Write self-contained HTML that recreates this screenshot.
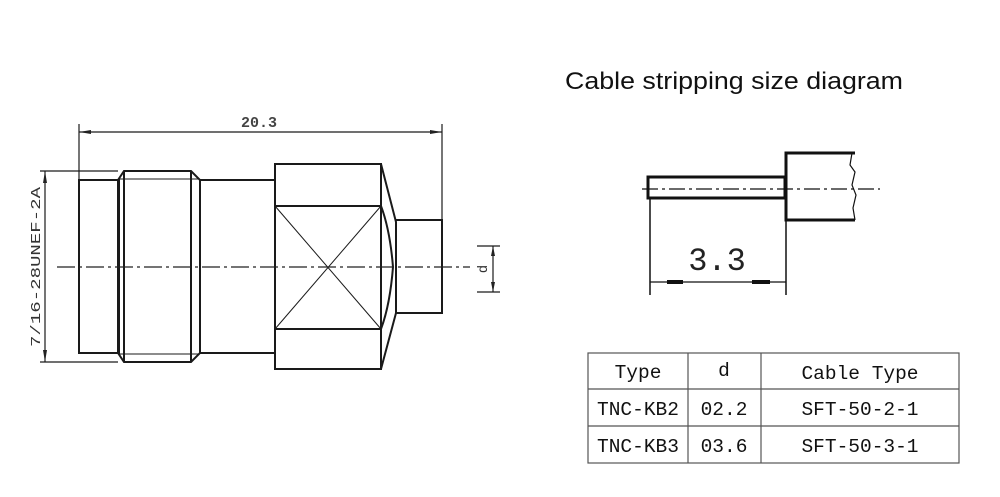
<!DOCTYPE html>
<html><head><style>
html,body{margin:0;padding:0;background:#fff;}
svg{display:block;}
</style></head><body>
<svg width="1000" height="497" viewBox="0 0 1000 497" xmlns="http://www.w3.org/2000/svg">
<rect width="1000" height="497" fill="#fff"/>
<text x="565" y="89" font-family="Liberation Sans, sans-serif" font-size="24" fill="#111" textLength="338" lengthAdjust="spacingAndGlyphs">Cable stripping size diagram</text>

<g stroke="#1a1a1a" fill="none" stroke-width="2">
  <line x1="79" y1="124" x2="79" y2="180" stroke-width="1.2"/>
  <line x1="442" y1="124" x2="442" y2="220" stroke-width="1.2"/>
  <line x1="79" y1="132" x2="442" y2="132" stroke-width="1.2"/>
  <line x1="40" y1="171" x2="118" y2="171" stroke-width="1.2"/>
  <line x1="40" y1="362" x2="118" y2="362" stroke-width="1.2"/>
  <line x1="45" y1="171" x2="45" y2="362" stroke-width="1.2"/>
  <rect x="79" y="180" width="40" height="173"/>
  <path d="M118,180 L124,171 L191,171 L200,180 L200,353 L191,362 L124,362 L118,353 Z"/>
  <line x1="124" y1="171" x2="124" y2="362"/>
  <line x1="191" y1="171" x2="191" y2="362"/>
  <line x1="118" y1="179" x2="200" y2="179" stroke-width="1"/>
  <line x1="118" y1="354" x2="200" y2="354" stroke-width="1"/>
  <line x1="200" y1="180" x2="275" y2="180"/>
  <line x1="200" y1="353" x2="275" y2="353"/>
  <rect x="275" y="164" width="106" height="205"/>
  <line x1="275" y1="206" x2="381" y2="206"/>
  <line x1="275" y1="329" x2="381" y2="329"/>
  <line x1="275" y1="206" x2="381" y2="329" stroke-width="1"/>
  <line x1="381" y1="206" x2="275" y2="329" stroke-width="1"/>
  <path d="M381,164 L396,222 L396,313 L381,369"/>
  <path d="M381,206 Q390,230 393,267 Q390,305 381,329"/>
  <path d="M396,220 L442,220 L442,313 L396,313"/>
  <line x1="477" y1="246" x2="500" y2="246" stroke-width="1.2"/>
  <line x1="477" y1="292" x2="500" y2="292" stroke-width="1.2"/>
  <line x1="493" y1="246" x2="493" y2="292" stroke-width="1.2"/>
</g>
<g fill="#222">
  <path d="M79,132 l12,-2 v4 z"/>
  <path d="M442,132 l-12,-2 v4 z"/>
  <path d="M45,171 l-2,12 h4 z"/>
  <path d="M45,362 l-2,-12 h4 z"/>
  <path d="M493,246 l-2,10 h4 z"/>
  <path d="M493,292 l-2,-10 h4 z"/>
</g>
<line x1="57" y1="267" x2="470" y2="267" stroke="#222" stroke-width="1.2" stroke-dasharray="18,4,3,4"/>
<text x="259" y="127" font-family="Liberation Mono, monospace" font-size="15" font-weight="bold" fill="#444" text-anchor="middle">20.3</text>
<text transform="translate(40,267) rotate(-90)" font-family="Liberation Mono, monospace" font-size="14" fill="#333" text-anchor="middle" textLength="160" lengthAdjust="spacingAndGlyphs">7/16-28UNEF-2A</text>
<text transform="translate(487,269) rotate(-90)" font-family="Liberation Mono, monospace" font-size="14" fill="#333" text-anchor="middle">d</text>

<g stroke="#111" fill="none">
  <rect x="648" y="177" width="137" height="21" stroke-width="3"/>
  <path d="M855,153 L786,153 L786,220 L855,220" stroke-width="3"/>
  <path d="M852,153 L850,165 L855,172 L852,185 L856,195 L853,208 L855,220" stroke-width="1.2"/>
  <line x1="650" y1="198" x2="650" y2="295" stroke-width="1.5"/>
  <line x1="786" y1="220" x2="786" y2="295" stroke-width="1.5"/>
  <line x1="650" y1="282" x2="786" y2="282" stroke-width="1.2"/>
</g>
<line x1="642" y1="189" x2="880" y2="189" stroke="#111" stroke-width="1.2" stroke-dasharray="16,4,3,4"/>
<rect x="667" y="280" width="16" height="4" fill="#111"/>
<rect x="752" y="280" width="18" height="4" fill="#111"/>
<text x="717" y="270" font-family="Liberation Mono, monospace" font-size="32" fill="#222" text-anchor="middle">3.3</text>

<g stroke="#555" stroke-width="1.2" fill="none">
  <rect x="588" y="353" width="371" height="110"/>
  <line x1="588" y1="389" x2="959" y2="389"/>
  <line x1="588" y1="426" x2="959" y2="426"/>
  <line x1="688" y1="353" x2="688" y2="463"/>
  <line x1="761" y1="353" x2="761" y2="463"/>
</g>
<g font-family="Liberation Mono, monospace" font-size="19.5" fill="#111" text-anchor="middle">
  <text x="638" y="378">Type</text>
  <text x="724" y="376">d</text>
  <text x="860" y="379">Cable Type</text>
  <text x="638" y="415">TNC-KB2</text>
  <text x="724" y="415">02.2</text>
  <text x="860" y="415">SFT-50-2-1</text>
  <text x="638" y="452">TNC-KB3</text>
  <text x="724" y="452">03.6</text>
  <text x="860" y="452">SFT-50-3-1</text>
</g>
</svg>
</body></html>
